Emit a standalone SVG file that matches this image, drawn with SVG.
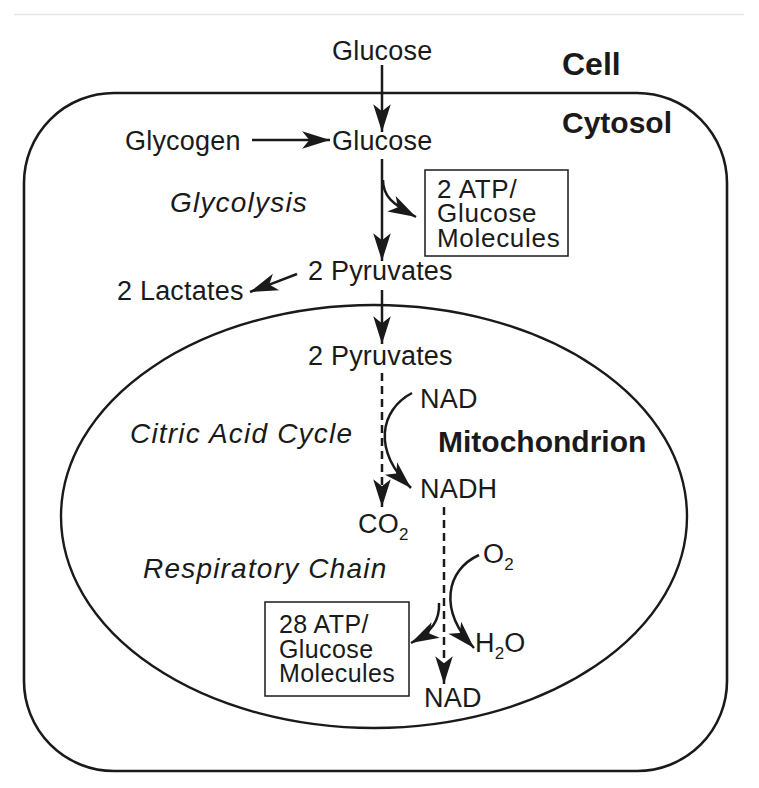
<svg xmlns="http://www.w3.org/2000/svg" width="759" height="788" viewBox="0 0 759 788">
<style>
text{font-family:"Liberation Sans",Arial,Helvetica,sans-serif;fill:#1a1a1a}
.t{font-size:27px;letter-spacing:0.2px}
.i{font-size:28px;font-style:italic;letter-spacing:1.2px}
.b{font-weight:bold}
.bx{font-size:26px;letter-spacing:0.7px}
.bx2{font-size:25px;letter-spacing:0.4px}
.sub{font-size:17px}
.ln{fill:none;stroke:#1a1a1a;stroke-width:2.5}
.dash{stroke-dasharray:8 5}
.box{fill:none;stroke:#1a1a1a;stroke-width:1.5}
</style>
<defs>
<marker id="ah" markerUnits="userSpaceOnUse" markerWidth="32" markerHeight="22" viewBox="-29 -10 31 20" refX="0" refY="0" orient="auto">
<path d="M0,0 L-27,-8.5 L-20,0 L-27,8.5 Z" fill="#1a1a1a"/>
</marker>
</defs>
<line x1="14" y1="14.5" x2="744" y2="14.5" stroke="#e6e6e6" stroke-width="1.5"/>
<g id="cell">
<rect x="24" y="93" width="703" height="678" rx="90" ry="90" fill="none" stroke="#1a1a1a" stroke-width="2.6"/>
<text x="562" y="75" class="b" font-size="32">Cell</text>
<text x="562" y="133" class="b" font-size="30">Cytosol</text>
</g>
<g id="mitochondrion">
<ellipse cx="374" cy="516.5" rx="313" ry="211.5" fill="none" stroke="#1a1a1a" stroke-width="2.4"/>
<text x="438" y="452" class="b" font-size="30">Mitochondrion</text>
</g>
<g id="glucose-ext"><text x="332" y="60" class="t">Glucose</text></g>
<g id="glycogen"><text x="125" y="150" class="t">Glycogen</text></g>
<g id="glucose"><text x="332" y="150" class="t">Glucose</text></g>
<g id="glycolysis"><text x="170" y="212" class="i">Glycolysis</text></g>
<g id="atp2">
<rect x="425" y="170" width="143" height="86" class="box"/>
<text x="437" y="198" class="bx">2 ATP/</text>
<text x="437" y="222" class="bx">Glucose</text>
<text x="437" y="247" class="bx">Molecules</text>
</g>
<g id="pyruvates1"><text x="308" y="280" class="t">2 Pyruvates</text></g>
<g id="lactates"><text x="117" y="300" class="t">2 Lactates</text></g>
<g id="pyruvates2"><text x="308" y="365" class="t">2 Pyruvates</text></g>
<g id="nad1"><text x="420" y="408" class="t">NAD</text></g>
<g id="citric"><text x="130" y="443" class="i">Citric Acid Cycle</text></g>
<g id="nadh"><text x="420" y="498" class="t">NADH</text></g>
<g id="co2"><text x="358" y="533" class="t">CO<tspan class="sub" dy="7">2</tspan></text></g>
<g id="respiratory"><text x="143" y="578" class="i">Respiratory Chain</text></g>
<g id="o2"><text x="483" y="563" class="t">O<tspan class="sub" dy="7">2</tspan></text></g>
<g id="h2o"><text x="475" y="652" class="t">H<tspan class="sub" dy="7">2</tspan><tspan dy="-7">O</tspan></text></g>
<g id="atp28">
<rect x="265" y="602" width="144" height="94" class="box"/>
<text x="279" y="633" class="bx2">28 ATP/</text>
<text x="279" y="658" class="bx2">Glucose</text>
<text x="279" y="682" class="bx2">Molecules</text>
</g>
<g id="nad2"><text x="424" y="707" class="t">NAD</text></g>
<g id="connectors">
<line x1="382" y1="65" x2="382" y2="132" class="ln" marker-end="url(#ah)"/>
<line x1="252" y1="140" x2="330" y2="140" class="ln" marker-end="url(#ah)"/>
<line x1="382" y1="159" x2="382" y2="261" class="ln" marker-end="url(#ah)"/>
<path d="M383,180 C383,196 392,204 416,217" class="ln" marker-end="url(#ah)"/>
<line x1="297" y1="274" x2="250" y2="292" class="ln" marker-end="url(#ah)"/>
<line x1="382" y1="290" x2="382" y2="344" class="ln" marker-end="url(#ah)"/>
<line x1="382" y1="373" x2="382" y2="507" class="ln dash" marker-end="url(#ah)"/>
<path d="M412,393 C380,410 372,450 411,488" class="ln" marker-end="url(#ah)"/>
<line x1="444" y1="507" x2="444" y2="684" class="ln dash" marker-end="url(#ah)"/>
<path d="M479,555 C446,570 438,610 474,648" class="ln" marker-end="url(#ah)"/>
<path d="M439,603 C440,620 432,632 411,643" class="ln" marker-end="url(#ah)"/>
</g>
</svg>
